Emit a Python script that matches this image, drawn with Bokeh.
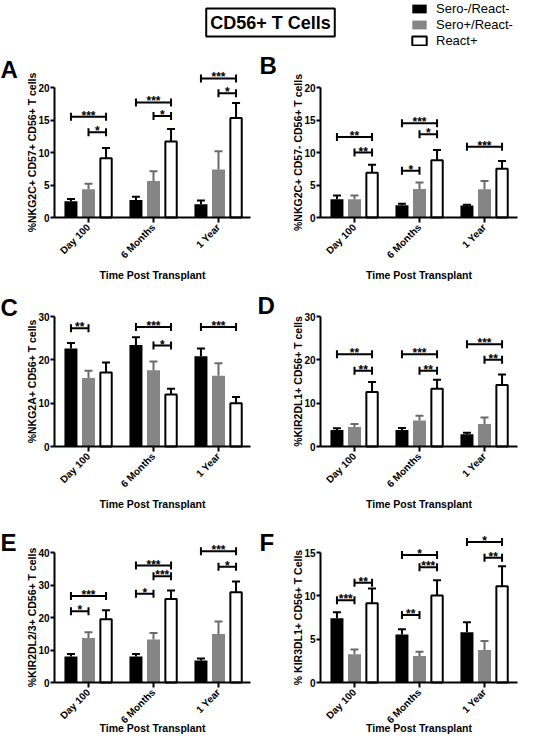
import math
from bokeh.plotting import figure
from bokeh.models import Range1d, FixedTicker, Label, ColumnDataSource, Legend, LegendItem
from bokeh.layouts import column, row
from bokeh.embed import file_html
from bokeh.resources import INLINE
from bokeh.core.properties import value

# ---------------- data ----------------
categories = ["Day 100", "6 Months", "1 Year"]
groups = ["Sero-/React-", "Sero+/React-", "React+"]

# Panel A  %NKG2C+ CD57+ CD56+ T cells
a_black = [2.5, 2.7, 2.05]
a_black_sem = [0.35, 0.5, 0.55]
a_grey = [4.35, 5.6, 7.4]
a_grey_sem = [0.85, 1.5, 2.8]
a_white = [9.1, 11.7, 15.3]
a_white_sem = [1.6, 1.9, 2.3]
a_yticks = [0, 5, 10, 15, 20]
a_sig = [(0, 0, 2, 15.5, "***"), (0, 1, 2, 13.1, "*"),
         (1, 0, 2, 17.7, "***"), (1, 1, 2, 15.6, "*"),
         (2, 0, 2, 21.4, "***"), (2, 1, 2, 19.1, "*")]

# Panel B  %NKG2C+ CD57- CD56+ T cells
b_black = [2.8, 1.9, 1.85]
b_black_sem = [0.6, 0.2, 0.1]
b_grey = [2.8, 4.4, 4.35]
b_grey_sem = [0.6, 1.0, 1.25]
b_white = [6.9, 8.8, 7.5]
b_white_sem = [1.2, 1.6, 1.2]
b_yticks = [0, 5, 10, 15, 20]
b_sig = [(0, 0, 2, 12.4, "**"), (0, 1, 2, 10.0, "**"),
         (1, 0, 2, 14.5, "***"), (1, 1, 2, 12.8, "*"), (1, 0, 1, 7.2, "*"),
         (2, 0, 2, 10.9, "***")]

# Panel C  %NKG2A+ CD56+ T cells
c_black = [22.6, 23.4, 20.8]
c_black_sem = [1.3, 1.8, 1.8]
c_grey = [15.8, 17.6, 16.3]
c_grey_sem = [1.7, 2.0, 2.9]
c_white = [17.1, 12.0, 10.0]
c_white_sem = [2.3, 1.3, 1.4]
c_yticks = [0, 10, 20, 30]
c_sig = [(0, 0, 1, 27.3, "**"),
         (1, 0, 2, 27.6, "***"), (1, 1, 2, 23.3, "*"),
         (2, 0, 2, 27.6, "***")]

# Panel D  %KIR2DL1+ CD56+ T cells
d_black = [3.8, 3.8, 2.8]
d_black_sem = [0.4, 0.45, 0.4]
d_grey = [4.5, 6.0, 5.2]
d_grey_sem = [0.7, 1.1, 1.5]
d_white = [12.6, 13.3, 14.2]
d_white_sem = [2.3, 2.1, 2.4]
d_yticks = [0, 10, 20, 30]
d_sig = [(0, 0, 2, 21.3, "**"), (0, 1, 2, 17.5, "**"),
         (1, 0, 2, 21.3, "***"), (1, 1, 2, 17.5, "**"),
         (2, 0, 2, 23.6, "***"), (2, 1, 2, 20.0, "**")]

# Panel E  %KIR2DL2/3+ CD56+ T cells
e_black = [8.0, 8.0, 6.8]
e_black_sem = [0.8, 0.8, 0.6]
e_grey = [13.7, 13.2, 14.9]
e_grey_sem = [1.8, 2.0, 3.9]
e_white = [19.5, 25.7, 27.8]
e_white_sem = [2.7, 2.6, 3.3]
e_yticks = [0, 10, 20, 30, 40]
e_sig = [(0, 0, 2, 26.6, "***"), (0, 0, 1, 21.9, "*"),
         (1, 0, 2, 36.0, "***"), (1, 1, 2, 32.7, "***"), (1, 0, 1, 27.3, "*"),
         (2, 0, 2, 40.4, "***"), (2, 1, 2, 35.6, "*")]

# Panel F  % KIR3DL1+ CD56+ T Cells
f_black = [7.4, 5.55, 5.8]
f_black_sem = [0.7, 0.6, 1.15]
f_grey = [3.25, 3.05, 3.75]
f_grey_sem = [0.55, 0.5, 1.05]
f_white = [9.15, 10.05, 11.1]
f_white_sem = [1.7, 1.75, 2.3]
f_yticks = [0, 5, 10, 15]
f_sig = [(0, 0, 1, 9.5, "***"), (0, 1, 2, 11.5, "**"),
         (1, 0, 1, 7.8, "**"), (1, 1, 2, 13.3, "***"), (1, 0, 2, 14.7, "*"),
         (2, 0, 2, 16.2, "*"), (2, 1, 2, 14.4, "**")]

# ---------------- styles ----------------
FONT = "Liberation Sans"
FH = 158          # plot-area height in px (baseline to top of bracket zone)
TICKPX = 130      # px from baseline to top tick
PXG = 65.0        # px per category
X0 = -34.0 / PXG  # data x of the y-axis
OFF = 0.27
BW = 0.2
FILL = ["#000000", "#858585", "#ffffff"]
WHISK = ["#000000", "#6a6a6a", "#000000"]

COLS = [dict(width=258, left=54, fw=196), dict(width=261, left=62, fw=197)]
ROWS = [dict(top=11, bottom=67, title_dy=-57),
        dict(top=4, bottom=74, title_dy=-57),
        dict(top=4, bottom=52, title_dy=-45)]


def panel(letter, lx, ly, ylabel, yticks, series, sigs, col, rw):
    c = COLS[col]
    r = ROWS[rw]
    ytop = yticks[-1]
    upp = ytop / TICKPX   # data units per pixel (y)
    H = r["top"] + FH + r["bottom"]
    W = c["width"]
    xs0 = X0 - c["left"] / PXG
    ys0 = -r["bottom"] * upp
    p = figure(width=W, height=H,
               x_range=Range1d(xs0, xs0 + W / PXG),
               y_range=Range1d(ys0, ys0 + H * upp),
               toolbar_location=None, output_backend="svg", title=None,
               min_border=0)
    p.outline_line_color = None
    p.xgrid.visible = False
    p.ygrid.visible = False

    for k, (means, sems) in enumerate(series):
        xs = [i + (k - 1) * OFF for i in range(len(categories))]
        errs = [m + s for m, s in zip(means, sems)]
        src = ColumnDataSource(dict(x=xs, top=means, err=errs))
        if k == 2:
            p.vbar(x="x", top="top", width=BW - 0.025, source=src,
                   fill_color=FILL[k], line_color="black", line_width=2)
        else:
            p.vbar(x="x", top="top", width=BW, source=src,
                   fill_color=FILL[k], line_color=None)
        p.segment(x0="x", y0="top", x1="x", y1="err", source=src,
                  line_color=WHISK[k], line_width=2)
        p.scatter(x="x", y="err", source=src, marker="dash", size=8,
                  line_color=WHISK[k], line_width=2)

    x0s, x1s, ys, xm, st = [], [], [], [], []
    for g, i, j, y, s in sigs:
        a = g + (i - 1) * OFF
        b = g + (j - 1) * OFF
        x0s.append(a); x1s.append(b); ys.append(y); xm.append((a + b) / 2); st.append(s)
    bsrc = ColumnDataSource(dict(x0=x0s, x1=x1s, y=ys, xm=xm, s=st))
    p.segment(x0="x0", y0="y", x1="x1", y1="y", source=bsrc, line_color="black", line_width=2)
    p.scatter(x="x0", y="y", source=bsrc, marker="dash", angle=math.pi / 2, size=8,
              line_color="black", line_width=2)
    p.scatter(x="x1", y="y", source=bsrc, marker="dash", angle=math.pi / 2, size=8,
              line_color="black", line_width=2)
    p.text(x="xm", y="y", text="s", source=bsrc, text_align="center",
           text_baseline="alphabetic", y_offset=-1, text_font=value(FONT),
           text_font_style="bold", text_font_size="12px", text_color="black")

    # axes (drawn at fixed data locations inside the canvas)
    for ax in (p.xaxis, p.yaxis):
        ax.axis_line_width = 2
        ax.axis_line_color = "black"
        ax.major_tick_line_width = 2
        ax.major_tick_line_color = "black"
        ax.major_tick_in = 0
        ax.minor_tick_line_color = None
        ax.major_label_text_font = FONT
        ax.major_label_text_font_style = "bold"
        ax.major_label_text_font_size = "10px"
        ax.major_label_text_color = "black"
    p.xaxis.fixed_location = 0
    p.xaxis.bounds = (X0, X0 + c["fw"] / PXG)
    p.xaxis.ticker = FixedTicker(ticks=list(range(len(categories))))
    p.xaxis.major_label_overrides = {i: cat for i, cat in enumerate(categories)}
    p.xaxis.major_label_orientation = math.pi / 4
    p.xaxis.major_tick_out = 5
    p.xaxis.major_label_standoff = 3
    p.yaxis.fixed_location = X0
    p.yaxis.ticker = FixedTicker(ticks=yticks)
    p.yaxis.bounds = (0, ytop)
    p.yaxis.major_tick_out = 4
    p.yaxis.major_label_standoff = 1
    p.yaxis.axis_label = ylabel
    p.yaxis.axis_label_text_font = FONT
    p.yaxis.axis_label_text_font_style = "bold"
    p.yaxis.axis_label_text_font_size = "10.5px"
    p.yaxis.axis_label_text_color = "black"
    p.yaxis.axis_label_standoff = -3

    p.add_layout(Label(x=X0 + c["fw"] / 2 / PXG, y=r["title_dy"] * upp,
                       text="Time Post Transplant", text_align="center", text_baseline="middle",
                       text_font=FONT, text_font_style="bold", text_font_size="10.5px",
                       text_color="black"))
    p.add_layout(Label(x=X0 + lx / PXG, y=ly * upp, text=letter,
                       text_align="left", text_baseline="alphabetic", text_font=FONT,
                       text_font_style="bold", text_font_size="24px", text_color="black"))
    return p


pA = panel("A", -54, 148, "%NKG2C+ CD57+ CD56+ T cells", a_yticks,
           [(a_black, a_black_sem), (a_grey, a_grey_sem), (a_white, a_white_sem)], a_sig, 0, 0)
pB = panel("B", -61, 152, "%NKG2C+ CD57- CD56+ T cells", b_yticks,
           [(b_black, b_black_sem), (b_grey, b_grey_sem), (b_white, b_white_sem)], b_sig, 1, 0)
pC = panel("C", -54, 139, "%NKG2A+ CD56+ T cells", c_yticks,
           [(c_black, c_black_sem), (c_grey, c_grey_sem), (c_white, c_white_sem)], c_sig, 0, 1)
pD = panel("D", -63, 141, "%KIR2DL1+ CD56+ T cells", d_yticks,
           [(d_black, d_black_sem), (d_grey, d_grey_sem), (d_white, d_white_sem)], d_sig, 1, 1)
pE = panel("E", -54, 140, "%KIR2DL2/3+ CD56+ T cells", e_yticks,
           [(e_black, e_black_sem), (e_grey, e_grey_sem), (e_white, e_white_sem)], e_sig, 0, 2)
pF = panel("F", -61, 140, "% KIR3DL1+ CD56+ T Cells", f_yticks,
           [(f_black, f_black_sem), (f_grey, f_grey_sem), (f_white, f_white_sem)], f_sig, 1, 2)

# ---------------- header: title box + legend ----------------
TOPW, TOPH = 519, 48
top = figure(width=TOPW, height=TOPH, x_range=Range1d(0, TOPW), y_range=Range1d(0, TOPH),
             toolbar_location=None, output_backend="svg", title=None,
             x_axis_location=None, y_axis_location=None, min_border=0)
top.outline_line_color = None
top.xgrid.visible = False
top.ygrid.visible = False
top.add_layout(Label(x=270, y=26, text="CD56+ T Cells", text_align="center",
                     text_baseline="middle", text_font=FONT, text_font_style="bold",
                     text_font_size="18px", text_color="black",
                     border_line_color="black", border_line_width=2,
                     background_fill_color="white", padding=4))
items = []
for k, g in enumerate(groups):
    # legend-only renderers: no visible mark (NaN placeholder)
    src = ColumnDataSource(dict(x=[float("nan")], top=[float("nan")]))
    if k == 2:
        rr = top.vbar(x="x", top="top", width=1, source=src, fill_color=FILL[k],
                      line_color="black", line_width=2)
    else:
        rr = top.vbar(x="x", top="top", width=1, source=src, fill_color=FILL[k],
                      line_color=None)
    items.append(LegendItem(label=g, renderers=[rr], index=0))
legend = Legend(items=items, location=(410, 0), glyph_width=18, glyph_height=11,
                label_height=15, spacing=1, padding=0, margin=0, label_standoff=8,
                border_line_color=None, background_fill_alpha=0,
                label_text_font=FONT, label_text_font_size="13px",
                label_text_color="black")
top.add_layout(legend)

layout = column(top, row(pA, pB, spacing=0), row(pC, pD, spacing=0),
                row(pE, pF, spacing=0), spacing=0)

open("out.html", "w").write(file_html(layout, INLINE))
